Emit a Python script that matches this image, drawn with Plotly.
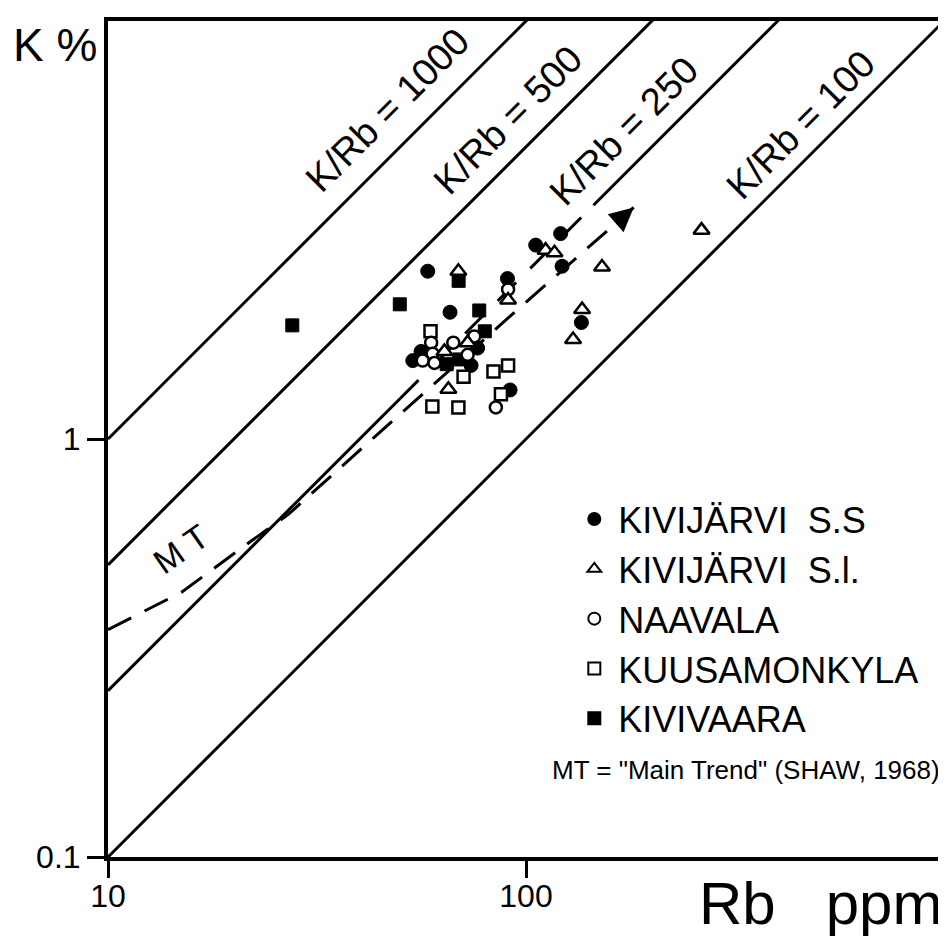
import numpy as np
import plotly.graph_objects as go

# ---- data ----
ss_rb = [58.2, 65.8, 90.3, 105.5, 121, 122, 135.7, 91.6, 76.6, 53.6, 56.1, 73.9]
ss_k = [2.52, 2.01, 2.42, 2.91, 3.10, 2.59, 1.90, 1.31, 1.65, 1.54, 1.62, 1.50]

sl_rb = [68.9, 90.6, 111.4, 117, 152, 136.2, 129.6, 65.2, 72.5, 63.8, 263]
sl_k = [2.52, 2.15, 2.83, 2.79, 2.58, 2.04, 1.73, 1.315, 1.70, 1.62, 3.16]

na_rb = [90.6, 59.3, 67.0, 75.2, 59.8, 56.6, 60.4, 72.5, 84.7]
na_k = [2.28, 1.70, 1.70, 1.76, 1.60, 1.54, 1.52, 1.59, 1.19]

ku_rb = [59.1, 70.9, 83.6, 90.6, 87.1, 59.7, 68.9]
ku_k = [1.81, 1.41, 1.45, 1.50, 1.28, 1.196, 1.19]

kv_rb = [27.6, 49.9, 69.0, 77.3, 79.7, 64.6, 69.2]
kv_k = [1.87, 2.10, 2.39, 2.03, 1.81, 1.51, 1.55]

# K/Rb reference lines
ratios = [1000, 500, 250, 100]
ratio_labels = ["K/Rb = 1000", "K/Rb = 500", "K/Rb = 250", "K/Rb = 100"]
rb_span = [10, 1000]
gap_250 = [50, 145]          # K/Rb=250 line drawn dashed through the data cluster

# Main Trend (Shaw, 1968)
mt_rb = [10, 15, 22, 27, 46, 96, 181]
mt_k = [0.35, 0.43, 0.57, 0.66, 1.065, 2.05, 3.58]

x_ticks = [10, 100]
y_ticks = [0.1, 1]

FONT = "Liberation Sans, Arial, sans-serif"

W, H = 946, 949
ML, MR, MT_, MB = 100, 6, 13, 100
PW, PH = W - ML - MR, H - MT_ - MB

fig = go.Figure()


def kline(rbs, r, dash="solid"):
    fig.add_trace(go.Scatter(
        x=rbs, y=[r * v / 10000 for v in rbs], mode="lines",
        line=dict(color="black", width=3, dash=dash),
        showlegend=False, hoverinfo="skip"))


for r in ratios:
    if r == 250:
        kline([rb_span[0], gap_250[0]], r)
        kline(gap_250, r, "26px,20px")
        kline([gap_250[1], rb_span[1]], r)
    else:
        kline(rb_span, r)

fig.add_trace(go.Scatter(
    x=mt_rb, y=mt_k, mode="lines",
    line=dict(color="black", width=3, dash="26px,15px"),
    showlegend=False, hoverinfo="skip"))

mk_line = dict(color="black", width=2.5)
fig.add_trace(go.Scatter(x=ss_rb, y=ss_k, mode="markers", name="KIVIJÄRVI\u00a0\u00a0S.S", legendrank=1,
                         marker=dict(symbol="circle", size=14, color="black", line=dict(color="black", width=1))))
fig.add_trace(go.Scatter(x=kv_rb, y=kv_k, mode="markers", name="KIVIVAARA", legendrank=5,
                         marker=dict(symbol="square", size=13, color="black", line=dict(color="black", width=1))))
fig.add_trace(go.Scatter(x=ku_rb, y=ku_k, mode="markers", name="KUUSAMONKYLA", legendrank=4,
                         marker=dict(symbol="square", size=12, color="white", line=mk_line)))
fig.add_trace(go.Scatter(x=na_rb, y=na_k, mode="markers", name="NAAVALA", legendrank=3,
                         marker=dict(symbol="circle", size=12, color="white", line=mk_line)))
fig.add_trace(go.Scatter(x=sl_rb, y=sl_k, mode="markers", name="KIVIJÄRVI\u00a0\u00a0S.l.", legendrank=2,
                         marker=dict(symbol="triangle-up", size=14, color="white", line=mk_line)))

fig.update_layout(
    width=W, height=H,
    margin=dict(l=ML, r=MR, t=MT_, b=MB),
    plot_bgcolor="white", paper_bgcolor="white",
    font=dict(family=FONT, color="black"),
    legend=dict(
        x=0.553, y=0.44, xanchor="left", yanchor="top",
        font=dict(size=36, family=FONT, color="black"),
        bgcolor="rgba(0,0,0,0)", traceorder="normal",
        itemsizing="constant", itemwidth=38,
    ),
)

axis_common = dict(
    showline=True, linewidth=4, linecolor="black", mirror=True,
    ticks="outside", ticklen=17, tickwidth=3, tickcolor="black",
    showgrid=False, zeroline=False,
    tickfont=dict(size=32, family=FONT, color="black"),
)
fig.update_xaxes(type="log", range=[1, 3], tickvals=x_ticks,
                 ticktext=[str(v) for v in x_ticks], ticklabelstandoff=-9, **axis_common)
fig.update_yaxes(type="log", range=[-1, 1], tickvals=y_ticks,
                 ticktext=[str(v) for v in y_ticks], **axis_common)

# arrow head at the end of the Main Trend
lx = np.log10(mt_rb[-2:])
ly = np.log10(mt_k[-2:])
dx = (lx[1] - lx[0]) * PW / 2
dy = (ly[1] - ly[0]) * PH / 2
n = np.hypot(dx, dy)
tail = 14
fig.add_annotation(x=lx[1], y=ly[1], xref="x", yref="y", text="",
                   showarrow=True, arrowhead=2, arrowsize=1.6, arrowwidth=3,
                   arrowcolor="black", ax=-dx / n * tail, ay=dy / n * tail, standoff=0)

# axis titles
fig.add_annotation(text="K %", xref="paper", yref="paper", x=0, y=1,
                   xanchor="right", yanchor="top", xshift=-9, yshift=4,
                   showarrow=False, font=dict(size=46, family=FONT))
fig.add_annotation(text="Rb\u00a0\u00a0\u00a0ppm", xref="paper", yref="paper", x=1, y=-0.056,
                   xanchor="right", yanchor="middle", xshift=0,
                   showarrow=False, font=dict(size=60, family=FONT))

# K/Rb labels
lab_pos = [(0.334, 0.894), (0.478, 0.882), (0.617, 0.869), (0.828, 0.876)]
for (px, py), t in zip(lab_pos, ratio_labels):
    fig.add_annotation(text=t, xref="paper", yref="paper", x=px, y=py,
                       xanchor="center", yanchor="middle", textangle=-45,
                       showarrow=False, font=dict(size=38, family=FONT))

fig.add_annotation(text="M T", xref="paper", yref="paper", x=(173 - ML) / PW, y=(H - MB - 541) / PH,
                   xanchor="center", yanchor="middle", textangle=-35,
                   showarrow=False, font=dict(size=34, family=FONT))

fig.add_annotation(text='MT = "Main Trend" (SHAW, 1968)', xref="paper", yref="paper",
                   x=1, y=(H - MB - 762) / PH, xanchor="right", yanchor="middle", xshift=-2,
                   showarrow=False, font=dict(size=26, family=FONT))

fig.write_html("out.html")
